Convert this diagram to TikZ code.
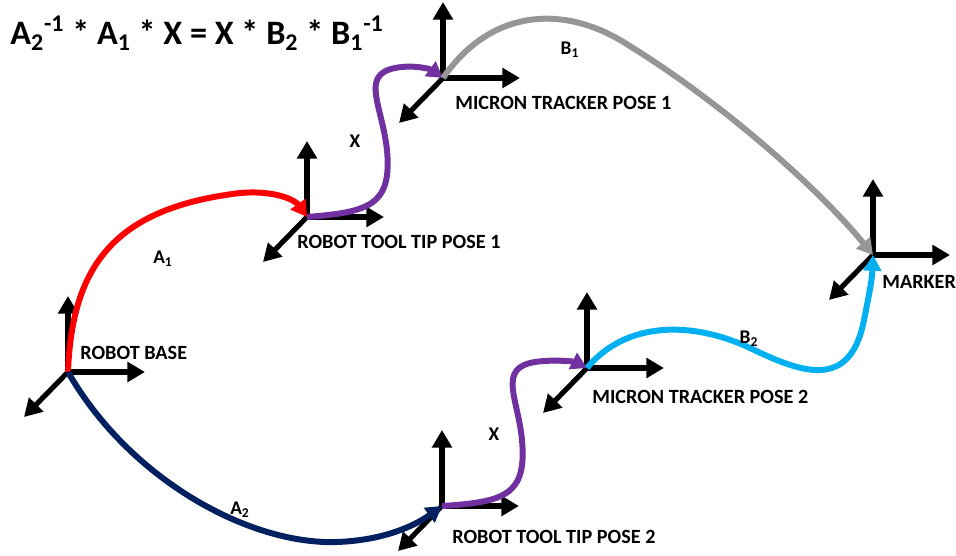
\documentclass[tikz,border=0pt]{standalone}
\usepackage{fontspec}
\setmainfont{Carlito}
\usepackage{tikz}
\usetikzlibrary{arrows.meta, positioning, calc}
\definecolor{curvered}{RGB}{255,0,0}
\definecolor{curvepurple}{RGB}{112,48,160}
\definecolor{curvegray}{RGB}{150,150,150}
\definecolor{curvenavy}{RGB}{0,32,96}
\definecolor{curvecyan}{RGB}{0,176,240}

\begin{document}
\begin{tikzpicture}[x=0.02cm, y=-0.02cm,
  axis/.style={line width=2.9pt, -{Triangle[length=10pt, width=11pt]}},
  pose/.style={line width=3.4pt, -{Triangle[length=9pt, width=10pt]}},
  framelbl/.style={anchor=west, inner sep=0pt, font=\bfseries\fontsize{11.5}{12}\selectfont},
  tf/.style={inner sep=0pt, font=\bfseries\fontsize{11}{12}\selectfont}
]
  \useasboundingbox (0,0) rectangle (956,555);

  % frame origins
  \coordinate (base)   at (68,372);
  \coordinate (tip1)   at (307,217);
  \coordinate (mt1)    at (443,78);
  \coordinate (marker) at (873,255);
  \coordinate (mt2)    at (587,368);
  \coordinate (tip2)   at (442,506);

  % coordinate axes of every frame
  \foreach \f in {base,tip1,mt1,marker,mt2,tip2} {
    \draw[axis] (\f) -- ++(0,-76);
    \draw[axis] (\f) -- ++(77,0);
    \draw[axis] (\f) -- ++(-44,45);
  }

  % transforms between frames
  \draw[pose, curvered] (base) .. controls (72,265) and (115,208) .. (240,193)
    .. controls (275,190) and (295,200) .. (tip1);
  \draw[pose, curvepurple] (tip1) .. controls (370,212) and (392,205) .. (387,150)
    .. controls (382,105) and (360,75) .. (395,68) .. controls (415,64) and (432,70) .. (mt1);
  \draw[pose, curvegray] (mt1) .. controls (490,10) and (560,5) .. (620,40)
    .. controls (720,100) and (820,190) .. (marker);
  \draw[pose, curvenavy] (base) .. controls (130,480) and (250,545) .. (337,542)
    .. controls (390,540) and (420,522) .. (tip2);
  \draw[pose, curvepurple] (tip2) .. controls (505,502) and (527,495) .. (522,440)
    .. controls (518,398) and (497,368) .. (535,362) .. controls (555,359) and (575,362) .. (mt2);
  \draw[pose, curvecyan] (mt2) .. controls (625,322) and (690,320) .. (750,348)
    .. controls (800,372) and (850,392) .. (864,320) .. controls (869,295) and (872,280) .. (marker);

  % frame names
  \node[framelbl] (lbase)   at (80,353)  {ROBOT BASE};
  \node[framelbl] (ltip1)   at (297,242) {ROBOT TOOL TIP POSE 1};
  \node[framelbl] (lmt1)    at (455,103) {MICRON TRACKER POSE 1};
  \node[framelbl] (lmarker) at (882,282) {MARKER};
  \node[framelbl] (lmt2)    at (592,397) {MICRON TRACKER POSE 2};
  \node[framelbl] (ltip2)   at (452,537) {ROBOT TOOL TIP POSE 2};

  % transform names
  \node[tf] (ta1) at (163,259) {A\textsubscript{1}};
  \node[tf] (tx1) at (355,141) {X};
  \node[tf] (tb1) at (570,50)  {B\textsubscript{1}};
  \node[tf] (ta2) at (240,510) {A\textsubscript{2}};
  \node[tf] (tx2) at (494,434) {X};
  \node[tf] (tb2) at (749,339) {B\textsubscript{2}};

  \node[anchor=west, inner sep=0pt, font=\bfseries\fontsize{19.5}{21}\selectfont] (eq) at (10,33)
    {A\textsubscript{2}\textsuperscript{-1} * A\textsubscript{1} * X = X * B\textsubscript{2} * B\textsubscript{1}\textsuperscript{-1}};
\end{tikzpicture}
\end{document}
